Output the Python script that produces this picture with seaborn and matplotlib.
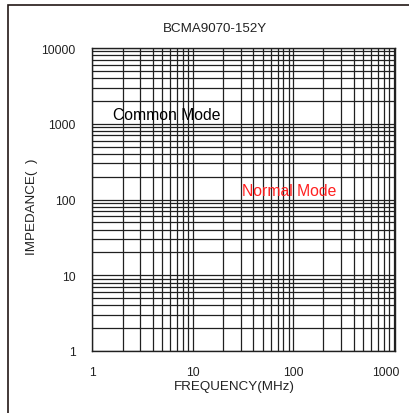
import matplotlib
matplotlib.use("Agg")
import matplotlib.pyplot as plt
import matplotlib.transforms as mtransforms
import seaborn as sns
import pandas as pd
from matplotlib.patches import Rectangle
from matplotlib.ticker import LogLocator, NullFormatter, FixedLocator, FixedFormatter

# ---- data / labels ----
title = "BCMA9070-152Y"
x_label = "FREQUENCY(MHz)"
y_label = "IMPEDANCE(  )"
x_ticks = [1, 10, 100, 1000]
x_tick_labels = ["1", "10", "100", "1000"]
y_ticks = [1, 10, 100, 1000, 10000]
y_tick_labels = ["1", "10", "100", "1000", "10000"]
x_range = [1, 1040]
y_range = [1, 10000]
annotations = ["Common Mode", "Normal Mode"]
annot_x = [1.61, 30.9]
annot_y = [1160, 115]
annot_colors = ["black", "#ff2020"]

sns.set_theme(style="white")
plt.rcParams["font.family"] = ["Liberation Sans", "DejaVu Sans"]

W, H = 409, 414
fig = plt.figure(figsize=(W / 100, H / 100), dpi=100)
ax = fig.add_axes([92.3 / W, (H - 352) / H, (395.3 - 92.3) / W, (352 - 49) / H])

# empty frame data drawn through seaborn (no curves in the reference)
df = pd.DataFrame({"f": pd.Series(dtype=float), "z": pd.Series(dtype=float)})
sns.lineplot(data=df, x="f", y="z", ax=ax)

ax.set_xscale("log")
ax.set_yscale("log")
ax.set_xlim(*x_range)
ax.set_ylim(*y_range)

ax.xaxis.set_major_locator(FixedLocator(x_ticks))
ax.xaxis.set_major_formatter(FixedFormatter(x_tick_labels))
ax.yaxis.set_major_locator(FixedLocator(y_ticks))
ax.yaxis.set_major_formatter(FixedFormatter(y_tick_labels))
ax.xaxis.set_minor_locator(LogLocator(base=10, subs=range(2, 10)))
ax.yaxis.set_minor_locator(LogLocator(base=10, subs=range(2, 10)))
ax.xaxis.set_minor_formatter(NullFormatter())
ax.yaxis.set_minor_formatter(NullFormatter())

ax.grid(True, which="both", color="#202020", linewidth=0.9)
ax.tick_params(which="both", length=0, labelsize=8.7, colors="#222222")
ax.tick_params(axis="x", pad=11)
ax.tick_params(axis="y", pad=12)
for s in ax.spines.values():
    s.set_color("#202020")
    s.set_linewidth(1.0)

ax.set_xlabel("")
ax.set_ylabel("")

# last x tick label sits a little left of its tick, as in the reference
last = ax.xaxis.get_major_ticks()[-1].label1
last.set_transform(last.get_transform() + mtransforms.ScaledTranslation(-8 / 100, 0, fig.dpi_scale_trans))

for t, xv, yv, c in zip(annotations, annot_x, annot_y, annot_colors):
    ax.text(xv, yv, t, color=c, fontsize=11.3, ha="left", va="baseline")

fig.text(215 / W, 1 - 29 / H, title, ha="center", va="center", fontsize=9.6, color="#222222")
fig.text(234.5 / W, 1 - 387.5 / H, x_label, ha="center", va="center", fontsize=9.6, color="#222222")
fig.text(32 / W, 1 - 207 / H, y_label, ha="center", va="center", rotation=90, fontsize=9.6, color="#222222")

# outer frame (extends past right/bottom like the reference)
fig.patches.append(Rectangle((8 / W, -0.1), 1.2, 1 - 6 / H + 0.1, transform=fig.transFigure,
                             fill=False, edgecolor="#231815", linewidth=1.2))

fig.savefig("out.png", dpi=100)
